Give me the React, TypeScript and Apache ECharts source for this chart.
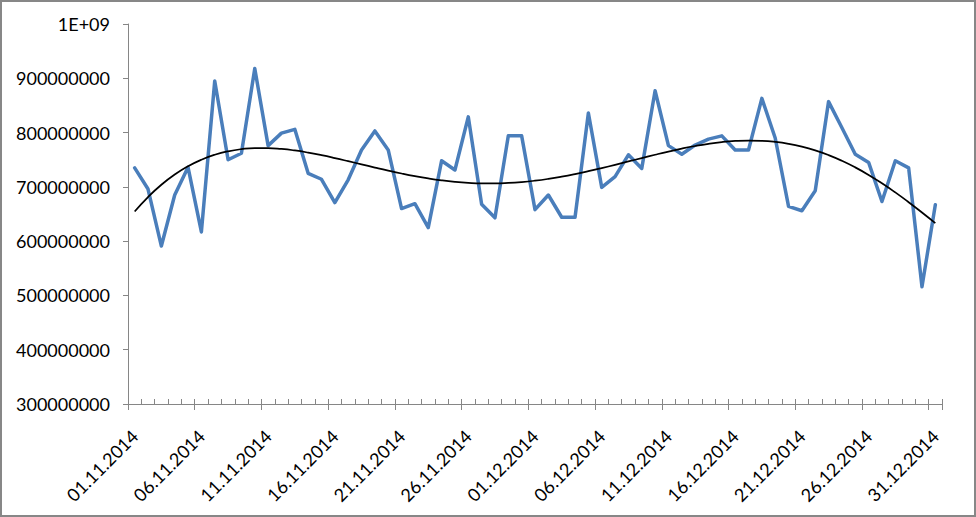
import React, { useEffect, useRef } from 'react';
import * as echarts from 'echarts';

const dates: string[] = [
  '01.11.2014', '02.11.2014', '03.11.2014', '04.11.2014', '05.11.2014', '06.11.2014', '07.11.2014', '08.11.2014', '09.11.2014', '10.11.2014',
  '11.11.2014', '12.11.2014', '13.11.2014', '14.11.2014', '15.11.2014', '16.11.2014', '17.11.2014', '18.11.2014', '19.11.2014', '20.11.2014',
  '21.11.2014', '22.11.2014', '23.11.2014', '24.11.2014', '25.11.2014', '26.11.2014', '27.11.2014', '28.11.2014', '29.11.2014', '30.11.2014',
  '01.12.2014', '02.12.2014', '03.12.2014', '04.12.2014', '05.12.2014', '06.12.2014', '07.12.2014', '08.12.2014', '09.12.2014', '10.12.2014',
  '11.12.2014', '12.12.2014', '13.12.2014', '14.12.2014', '15.12.2014', '16.12.2014', '17.12.2014', '18.12.2014', '19.12.2014', '20.12.2014',
  '21.12.2014', '22.12.2014', '23.12.2014', '24.12.2014', '25.12.2014', '26.12.2014', '27.12.2014', '28.12.2014', '29.12.2014', '30.12.2014',
  '31.12.2014',
];

const values: number[] = [
  735e6, 696e6, 591e6, 685e6, 736e6, 617e6, 895e6, 750e6, 762e6, 918e6,
  776e6, 799e6, 806e6, 725e6, 714e6, 671e6, 713e6, 768e6, 803e6, 768e6,
  660e6, 669e6, 625e6, 748e6, 731e6, 829e6, 668e6, 643e6, 794e6, 794e6,
  658e6, 685e6, 644e6, 644e6, 836e6, 699e6, 719e6, 759e6, 734e6, 877e6,
  776e6, 760e6, 777e6, 788e6, 794e6, 768e6, 768e6, 863e6, 790e6, 664e6,
  656e6, 693e6, 857e6, 809e6, 760e6, 745e6, 673e6, 748e6, 735e6, 516e6,
  667e6,
];

const yMin = 300000000;
const yMax = 1000000000;
const yStep = 100000000;
const trendDegree = 6;

function polyFit(ys: number[], degree: number): number[] {
  const n = ys.length;
  const half = (n - 1) / 2;
  const xs = ys.map((_, i) => (i - half) / half);
  const m = degree + 1;
  const A: number[][] = Array.from({ length: m }, () => new Array(m + 1).fill(0));
  for (let k = 0; k < n; k++) {
    const pw: number[] = [1];
    for (let j = 1; j < 2 * m; j++) pw.push(pw[j - 1] * xs[k]);
    for (let r = 0; r < m; r++) {
      for (let c = 0; c < m; c++) A[r][c] += pw[r + c];
      A[r][m] += pw[r] * ys[k];
    }
  }
  for (let col = 0; col < m; col++) {
    let piv = col;
    for (let r = col + 1; r < m; r++) if (Math.abs(A[r][col]) > Math.abs(A[piv][col])) piv = r;
    const tmp = A[col]; A[col] = A[piv]; A[piv] = tmp;
    for (let r = 0; r < m; r++) {
      if (r === col) continue;
      const f = A[r][col] / A[col][col];
      for (let c = col; c <= m; c++) A[r][c] -= f * A[col][c];
    }
  }
  const coef = A.map((row, r) => row[m] / row[r]);
  return xs.map((x) => coef.reduce((s, c, j) => s + c * Math.pow(x, j), 0));
}

export default function App() {
  const ref = useRef<HTMLDivElement>(null);
  useEffect(() => {
    if (!ref.current) return;
    const chart = echarts.init(ref.current, undefined, { renderer: 'svg' });
    const trend = polyFit(values, trendDegree);
    const font = 'Lato';
    chart.setOption({
      animation: false,
      backgroundColor: '#ffffff',
      grid: { left: 128, right: 34, top: 24, bottom: 113 },
      graphic: [
        {
          type: 'rect',
          shape: { x: 1, y: 1, width: 974, height: 515 },
          style: { fill: 'none', stroke: '#878787', lineWidth: 2 },
          silent: true,
          z: 100,
        },
      ],
      xAxis: [
        {
          type: 'category',
          data: dates,
          boundaryGap: true,
          axisLine: { show: true, lineStyle: { color: '#868686', width: 1 } },
          axisTick: { show: true, interval: 4, length: 6, lineStyle: { color: '#868686' } },
          axisLabel: {
            interval: 4,
            rotate: 45,
            margin: 29,
            align: 'right',
            verticalAlign: 'middle',
            color: '#000',
            fontFamily: font,
            fontSize: 18,
          },
          splitLine: { show: false },
        },
        {
          type: 'category',
          data: dates,
          boundaryGap: true,
          position: 'bottom',
          axisLine: { show: false },
          axisTick: { show: true, interval: 0, inside: true, length: 5, lineStyle: { color: '#868686' } },
          axisLabel: { show: false },
          splitLine: { show: false },
        },
      ],
      yAxis: {
        type: 'value',
        min: yMin,
        max: yMax,
        interval: yStep,
        axisLine: { show: true, lineStyle: { color: '#868686', width: 1 } },
        axisTick: { show: true, length: 5, lineStyle: { color: '#868686' } },
        splitLine: { show: false },
        axisLabel: {
          margin: 18,
          color: '#000',
          fontFamily: font,
          fontSize: 18,
          formatter: (v: number) => (v >= 1e9 ? '1E+09' : String(v)),
        },
      },
      series: [
        {
          type: 'line',
          data: values,
          showSymbol: false,
          symbol: 'none',
          lineStyle: { color: '#4A7EBB', width: 3.5, join: 'round', cap: 'round' },
          z: 2,
        },
        {
          type: 'line',
          data: trend,
          showSymbol: false,
          symbol: 'none',
          smooth: true,
          lineStyle: { color: '#000000', width: 1.75 },
          z: 3,
        },
      ],
    });
    return () => chart.dispose();
  }, []);
  return (
    <div style={{ position: 'absolute', left: 0, top: 0, width: 976, height: 517 }}>
      <div ref={ref} style={{ width: 976, height: 517 }} />
    </div>
  );
}
